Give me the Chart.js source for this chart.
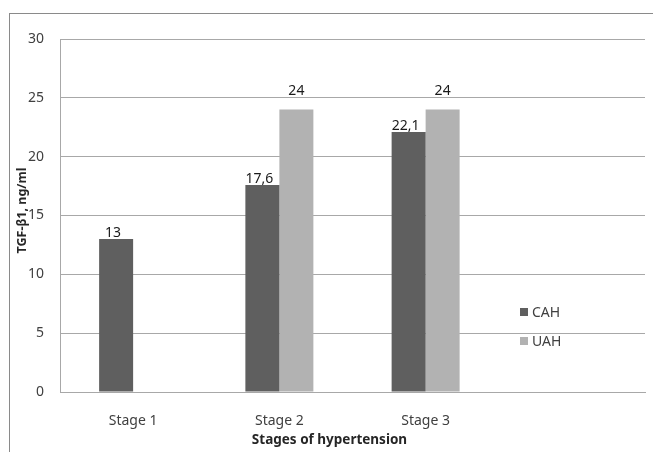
<!DOCTYPE html>
<html>
<head>
<meta charset="utf-8">
<script src="https://cdn.jsdelivr.net/npm/chart.js@4.4.0/dist/chart.umd.min.js"></script>
<style>
  html, body { margin: 0; padding: 0; background: #fff; }
  #wrap { position: relative; width: 653px; height: 452px; overflow: hidden; }
  #frame { position: absolute; left: 9px; top: 13px; width: 700px; height: 500px; border: 1px solid #8a8a8a; box-sizing: border-box; }
  canvas { position: absolute; left: 0; top: 0; }
</style>
</head>
<body>
<div id="wrap">
  <div id="frame"></div>
  <canvas id="chart" width="653" height="452"></canvas>
</div>
<script>
// Chart data
const stages = ["Stage 1", "Stage 2", "Stage 3", ""];
const cahValues = [13, 17.6, 22.1, null];
const uahValues = [null, 24, 24, null];
const seriesNames = ["CAH", "UAH"];
const yMin = 0;
const yMax = 30;
const yStep = 5;
const xTitle = "Stages of hypertension";
const yTitle = "TGF-β1, ng/ml";

const FONT = "'Noto Sans', 'Open Sans', sans-serif";
const gridColor = "#a8a8a8";
const textColor = "#404040";

// value labels above bars, decimal comma like the original
const valueLabels = {
  id: "valueLabels",
  afterDatasetsDraw(chart) {
    const ctx = chart.ctx;
    ctx.save();
    ctx.font = "14px " + FONT;
    ctx.fillStyle = "#1a1a1a";
    ctx.textAlign = "center";
    ctx.textBaseline = "bottom";
    chart.data.datasets.forEach((ds, i) => {
      const meta = chart.getDatasetMeta(i);
      meta.data.forEach((bar, j) => {
        const v = ds.data[j];
        if (v === null) return;
        ctx.fillText(String(v).replace(".", ","), bar.x + ds.labelShift, bar.y - ds.labelLift);
      });
    });
    ctx.restore();
  }
};

// axis titles and the legend that sits inside the plot
const extras = {
  id: "extras",
  afterDraw(chart) {
    const ctx = chart.ctx;
    const area = chart.chartArea;
    ctx.save();
    ctx.fillStyle = "#262626";
    ctx.font = "bold 13.5px " + FONT;
    ctx.textAlign = "center";
    ctx.textBaseline = "middle";
    ctx.fillText(xTitle, (area.left + area.right) / 2 - 23, 440);

    ctx.save();
    ctx.translate(22, (area.top + area.bottom) / 2 - 5);
    ctx.rotate(-Math.PI / 2);
    ctx.font = "bold 12.5px " + FONT;
    ctx.fillText(yTitle, 0, 0);
    ctx.restore();

    // legend
    ctx.font = "14px " + FONT;
    ctx.textAlign = "left";
    chart.data.datasets.forEach((ds, i) => {
      const y = area.top + 273 + i * 29;
      const x = area.right - 125;
      ctx.fillStyle = ds.backgroundColor;
      ctx.fillRect(x, y - 4, 8, 8);
      ctx.fillStyle = textColor;
      ctx.fillText(ds.label, x + 12, y + 1);
    });
    ctx.restore();
  }
};

new Chart(document.getElementById("chart"), {
  type: "bar",
  data: {
    labels: stages,
    datasets: [
      { label: seriesNames[0], data: cahValues, backgroundColor: "#5f5f5f", labelShift: -3, labelLift: -1 },
      { label: seriesNames[1], data: uahValues, backgroundColor: "#b2b2b2", labelShift: 0, labelLift: 12 }
    ]
  },
  options: {
    responsive: false,
    animation: false,
    layout: { padding: { top: 39, right: 8, left: 0, bottom: 0 } },
    datasets: {
      bar: { categoryPercentage: 0.465, barPercentage: 1 }
    },
    plugins: {
      legend: { display: false },
      tooltip: { enabled: false }
    },
    scales: {
      x: {
        afterFit: s => { s.height = 60; },
        grid: { display: false },
        border: { display: true, color: gridColor, width: 1 },
        ticks: { padding: 13, color: textColor, font: { family: FONT, size: 14 } }
      },
      y: {
        min: yMin,
        max: yMax,
        afterFit: s => { s.width = 60; },
        grid: { color: gridColor, drawTicks: false },
        border: { display: true, color: gridColor, width: 1 },
        ticks: { stepSize: yStep, padding: 16, color: textColor, font: { family: FONT, size: 14 } }
      }
    }
  },
  plugins: [valueLabels, extras]
});
</script>
</body>
</html>
